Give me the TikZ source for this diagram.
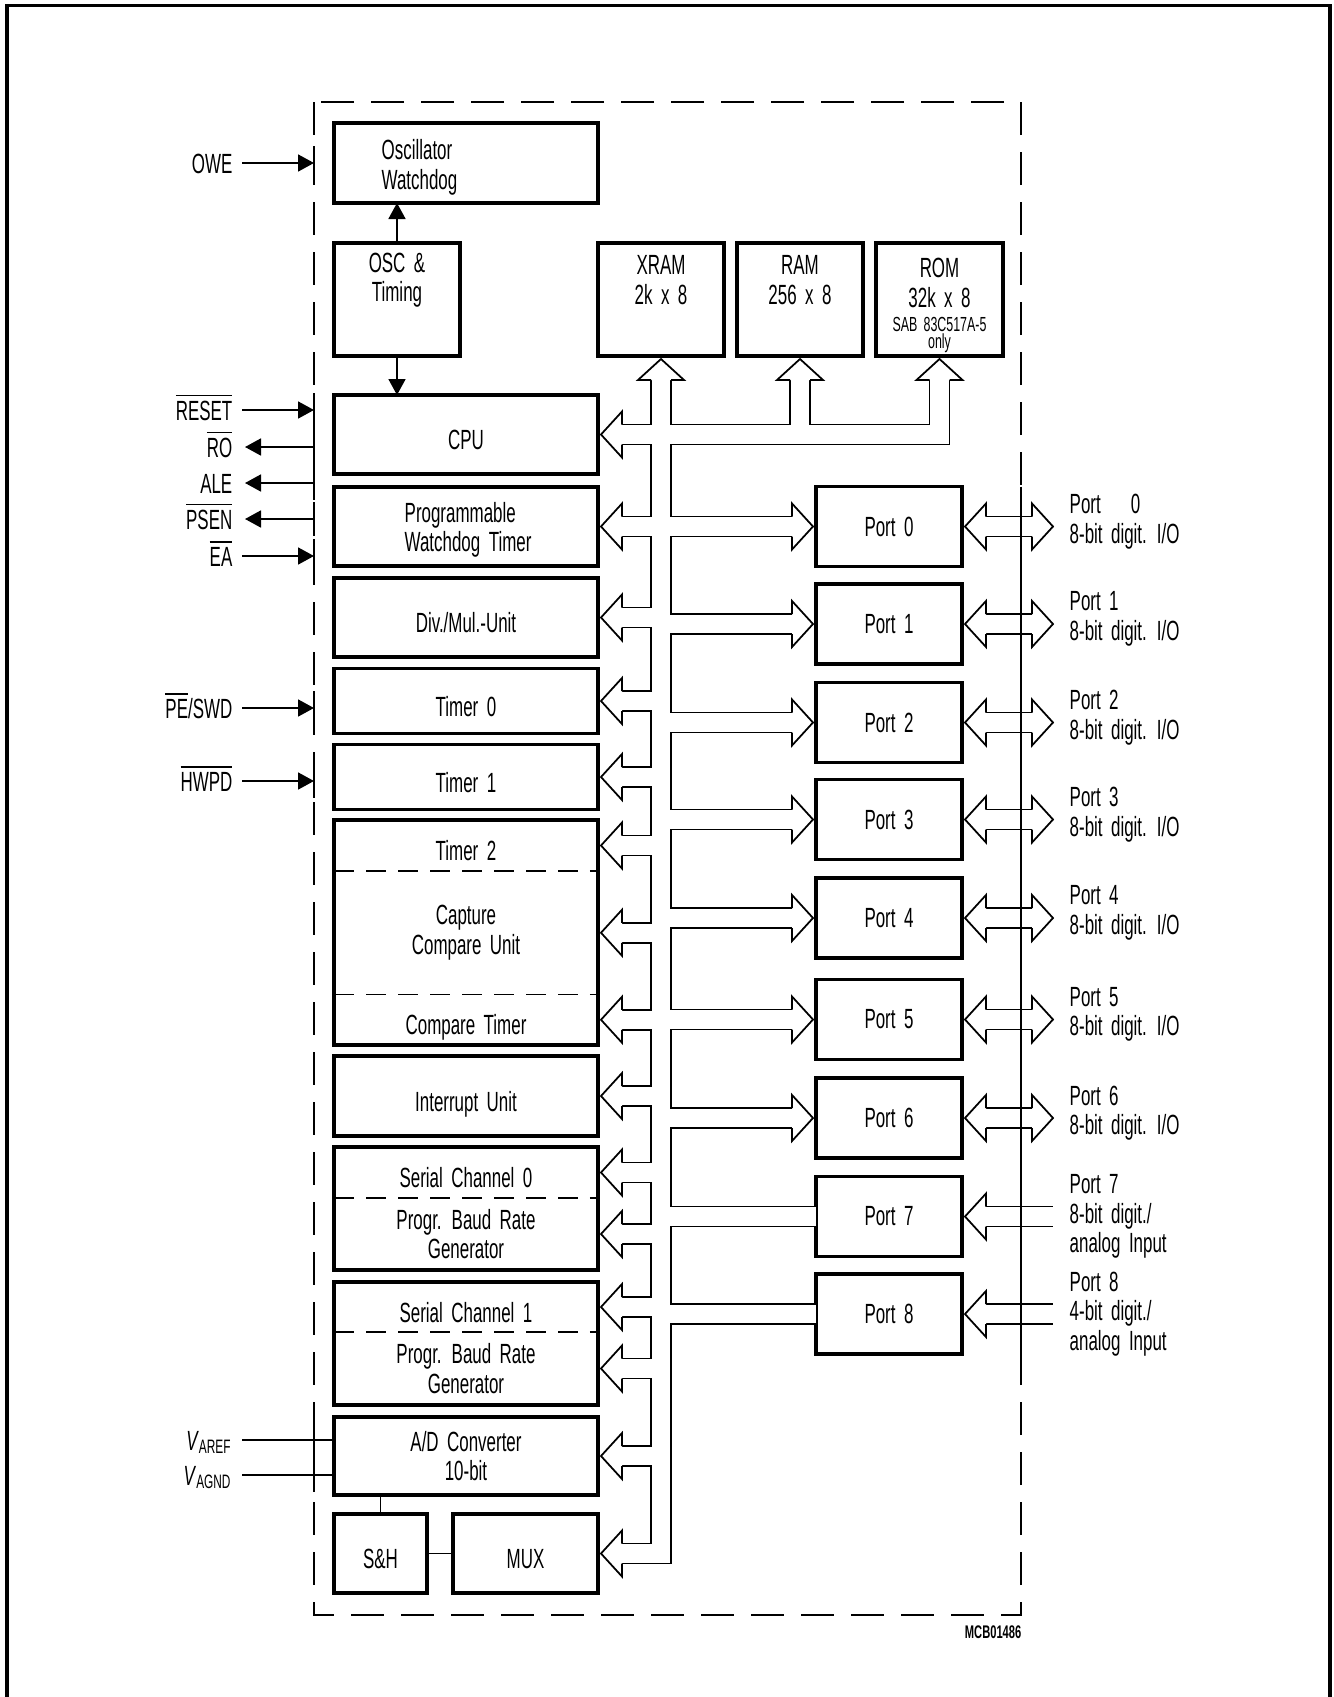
\documentclass[tikz,border=0pt]{standalone}
\usepackage{fontspec}
\setmainfont{Liberation Sans}[FakeStretch=0.61,WordSpace=1.8]
\usepackage{tikz}
\usetikzlibrary{arrows.meta}
\newcommand{\modfont}{\fontsize{7.9pt}{8.4pt}\selectfont}
\newcommand{\notefont}{\fontsize{5.8pt}{4.6pt}\selectfont}
\tikzset{
  modbox/.style={
    draw,
    line width=1pt,
    minimum width=2.64cm,
    inner sep=0pt,
    outer sep=0pt,
    align=center,
    font=\modfont
  },
  modpart/.style={
    minimum width=2.64cm,
    inner sep=0pt,
    outer sep=0pt,
    align=center,
    font=\modfont
  },
  oneline/.style={text height=3.2mm, text depth=0.2mm},
  modtext/.style={inner sep=0pt, align=center, font=\modfont},
  portbox/.style={modbox, minimum width=1.46cm, minimum height=0.80cm},
  siglabel/.style={
    inner sep=0pt,
    anchor=east,
    font=\modfont,
    text height=2.2mm,
    text depth=0.2mm
  },
  modline/.style={line width=1pt},
  splitline/.style={line width=0.5pt, dash pattern=on 0.2cm off 0.12cm},
  chipframe/.style={line width=0.5pt, dash pattern=on 0.33cm off 0.17cm},
  sigarrow/.style={line width=0.5pt, -{Triangle[length=1.6mm,width=1.7mm]}},
  sigwire/.style={line width=0.5pt},
  buswall/.style={line width=0.5pt},
  buspipe/.style={
    white,
    line width=5.2pt,
    line join=miter,
    preaction={draw=black, line width=6.2pt, line join=miter}
  },
  bushead/.pic={
    \fill[white] (-0.03,0) -- (-0.24,0.23) -- (-0.24,-0.23) -- cycle;
    \draw[buswall] (-0.24,0.10) -- (-0.24,0.23) -- (-0.03,0) -- (-0.24,-0.23) -- (-0.24,-0.10);
  }
}

\begin{document}
\begin{tikzpicture}[x=1cm,y=-1cm]
  \useasboundingbox (0,0) rectangle (13.34,16.97);
  \draw[line width=1pt] (0.07,16.97) -- (0.07,0.055) -- (13.30,0.055) -- (13.30,16.97);

  % blocks inside the chip
  \node[modbox, minimum height=0.80cm] (oscwd) at (4.66,1.63) {};
  \node[modtext, align=left, anchor=west] (oscwdtext) at (3.81,1.675) {Oscillator\\Watchdog};
  \node[modbox, minimum width=1.26cm, minimum height=1.13cm] (osct) at (3.97,2.995) {};
  \node[modtext] (oscttext) at (3.97,2.80) {OSC \&\\Timing};
  \node[modbox, minimum width=1.26cm, minimum height=1.13cm] (xram) at (6.61,2.995) {};
  \node[modtext] (xramtext) at (6.61,2.80) {XRAM\\2k x 8};
  \node[modbox, minimum width=1.26cm, minimum height=1.13cm] (ram) at (8.00,2.995) {};
  \node[modtext] (ramtext) at (8.00,2.80) {RAM\\256 x 8};
  \node[modbox, minimum width=1.27cm, minimum height=1.13cm] (rom) at (9.395,2.995) {};
  \node[modtext] (romtext) at (9.395,2.83) {ROM\\32k x 8};
  \node[modtext, font=\notefont] (romnote) at (9.395,3.35) {SAB 83C517A-5\\only};
  \node[modbox, oneline, minimum height=0.79cm] (cpu) at (4.66,4.345) {CPU};
  \node[modbox, minimum height=0.79cm] (pwdt) at (4.66,5.265) {};
  \node[modtext, align=left, anchor=west] (pwdttext) at (4.04,5.30) {Programmable\\Watchdog Timer};
  \node[modbox, oneline, minimum height=0.79cm] (divmul) at (4.66,6.175) {Div./Mul.-Unit};
  \node[modbox, oneline, minimum height=0.65cm] (timer0) at (4.66,7.01) {Timer 0};
  \node[modbox, oneline, minimum height=0.65cm] (timer1) at (4.66,7.77) {Timer 1};
  \node[modpart, oneline, minimum height=0.51cm] (timer2) at (4.66,8.455) {Timer 2};
  \node[modpart, minimum height=1.235cm] (ccu) at (4.66,9.3275) {Capture\\Compare Unit};
  \node[modpart, oneline, minimum height=0.505cm] (ctimer) at (4.66,10.1975) {Compare Timer};
  \node[modbox, oneline, minimum height=0.80cm] (intu) at (4.66,10.96) {Interrupt Unit};
  \node[modpart, oneline, minimum height=0.51cm] (sc0) at (4.66,11.725) {Serial Channel 0};
  \node[modpart, minimum height=0.72cm] (brg0) at (4.66,12.34) {Progr. Baud Rate\\Generator};
  \node[modpart, oneline, minimum height=0.50cm] (sc1) at (4.66,13.07) {Serial Channel 1};
  \node[modpart, minimum height=0.73cm] (brg1) at (4.66,13.685) {Progr. Baud Rate\\Generator};
  \node[modbox, minimum height=0.78cm] (adc) at (4.66,14.56) {A/D Converter\\10-bit};
  \node[modbox, oneline, minimum width=0.93cm, minimum height=0.79cm] (sh) at (3.805,15.535) {S\&H};
  \node[modbox, oneline, minimum width=1.45cm, minimum height=0.79cm] (mux) at (5.255,15.535) {MUX};
  \draw[modline] (timer2.north west) rectangle (ctimer.south east);
  \draw[modline] (sc0.north west) rectangle (brg0.south east);
  \draw[modline] (sc1.north west) rectangle (brg1.south east);
  \draw[splitline] (timer2.south west) -- (timer2.south east) (ccu.south west) -- (ccu.south east)
    (sc0.south west) -- (sc0.south east) (sc1.south west) -- (sc1.south east);
  \draw[sigarrow] (osct.north) -- (osct.north |- oscwd.south);
  \draw[sigarrow] (osct.south) -- (osct.south |- cpu.north);
  \draw[sigwire] (sh.north) -- (sh.north |- adc.south);
  \draw[sigwire] (sh.east) -- (mux.west);

  % ports
  \foreach \i/\y in {0/5.265,1/6.24,2/7.225,3/8.195,4/9.18,5/10.195,6/11.18,7/12.165,8/13.14}{
    \node[portbox] (port\i) at (8.89,\y) {Port \i};
    \coordinate (io\i) at ([xshift=9.4mm]port\i.east);
  }
  \node[modtext, align=left, anchor=west] (pin0) at ([xshift=10.7mm,yshift=0.5mm]port0.east) {Port\hspace{0.3cm}0\\8-bit digit. I/O};
  \foreach \i in {1,...,6}
    \node[modtext, align=left, anchor=west] (pin\i) at ([xshift=10.7mm,yshift=0.5mm]port\i.east) {Port \i\\8-bit digit. I/O};
  \node[modtext, align=left, anchor=west] (pin7) at ([xshift=10.7mm]port7.east) {Port 7\\8-bit digit./\\analog Input};
  \node[modtext, align=left, anchor=west] (pin8) at ([xshift=10.7mm]port8.east) {Port 8\\4-bit digit./\\analog Input};

  % internal bus
  \draw[buspipe] ([yshift=-2.4mm]xram.south) -- (xram.south |- mux.east) -- ([xshift=2.4mm]mux.east)
    ([xshift=2.4mm]cpu.east) -- (cpu.east -| rom.south) -- ([yshift=-2.4mm]rom.south)
    (cpu.east -| ram.south) -- ([yshift=-2.4mm]ram.south)
    foreach \m in {pwdt,divmul,timer0,timer1,timer2,ccu,ctimer,intu,sc0,brg0,sc1,brg1,adc} {([xshift=2.4mm]\m.east) -- (\m.east -| xram.south)}
    foreach \i in {0,...,6} {([xshift=-2.4mm]port\i.west) -- (port\i.west -| xram.south)}
    foreach \i in {7,8} {(port\i.west) -- (port\i.west -| xram.south)};
  \draw[buspipe] foreach \i in {0,...,6} {([xshift=2.4mm]port\i.east) -- ([xshift=-2.4mm]io\i)}
    foreach \i in {7,8} {([xshift=2.4mm]port\i.east) -- ([xshift=-0.3mm]io\i)};
  \foreach \m in {cpu,pwdt,divmul,timer0,timer1,timer2,ccu,ctimer,intu,sc0,brg0,sc1,brg1,adc,mux}
    \pic[rotate=180] at (\m.east) {bushead};
  \foreach \m in {xram,ram,rom}
    \pic[rotate=90] at (\m.south) {bushead};
  \foreach \i in {0,...,6}{
    \pic at (port\i.west) {bushead};
    \pic at (io\i) {bushead};
  }
  \foreach \i in {0,...,8}
    \pic[rotate=180] at (port\i.east) {bushead};

  % chip outline and pins
  \coordinate (frameW) at (3.14,1.02);
  \coordinate (frameE) at (10.21,16.15);
  \draw[chipframe] (frameW) rectangle (frameE);
  \node[siglabel] (owe) at (2.33,1.63) {OWE};
  \node[siglabel] (reset) at (2.33,4.10) {$\overline{\mbox{RESET}}$};
  \node[siglabel] (ro) at (2.33,4.47) {$\overline{\mbox{RO}}$};
  \node[siglabel] (ale) at (2.33,4.83) {ALE};
  \node[siglabel] (psen) at (2.33,5.19) {$\overline{\mbox{PSEN}}$};
  \node[siglabel] (ea) at (2.33,5.56) {$\overline{\mbox{EA}}$};
  \node[siglabel] (pesw) at (2.33,7.08) {$\overline{\mbox{PE}}$/SWD};
  \node[siglabel] (hwpd) at (2.33,7.81) {$\overline{\mbox{HWPD}}$};
  \node[siglabel] (varef) at (2.33,14.40) {\textit{V}\textsubscript{AREF}};
  \node[siglabel] (vagnd) at (2.33,14.75) {\textit{V}\textsubscript{AGND}};
  \foreach \s in {owe,reset,ea,pesw,hwpd}
    \draw[sigarrow] ([xshift=0.9mm]\s.east) -- (\s.east -| frameW);
  \foreach \s in {ro,ale,psen}
    \draw[sigarrow] (\s.east -| frameW) -- ([xshift=1.2mm]\s.east);
  \foreach \s in {varef,vagnd}
    \draw[sigwire] ([xshift=0.9mm]\s.east) -- (\s.east -| adc.west);
  \foreach \s in {owe,reset,ro,ale,psen,ea,pesw,hwpd,varef,vagnd}
    \draw[sigwire] (\s.east -| frameW) ++(0,-0.17) -- ++(0,0.34);
  \foreach \i in {0,...,8}
    \draw[sigwire] (port\i.east -| frameE) ++(0,-0.40) -- ++(0,0.80);
  \node[inner sep=0pt, anchor=east, font=\fontsize{5.2pt}{6pt}\selectfont\bfseries] (figid) at (10.22,16.32) {MCB01486};
\end{tikzpicture}
\end{document}
